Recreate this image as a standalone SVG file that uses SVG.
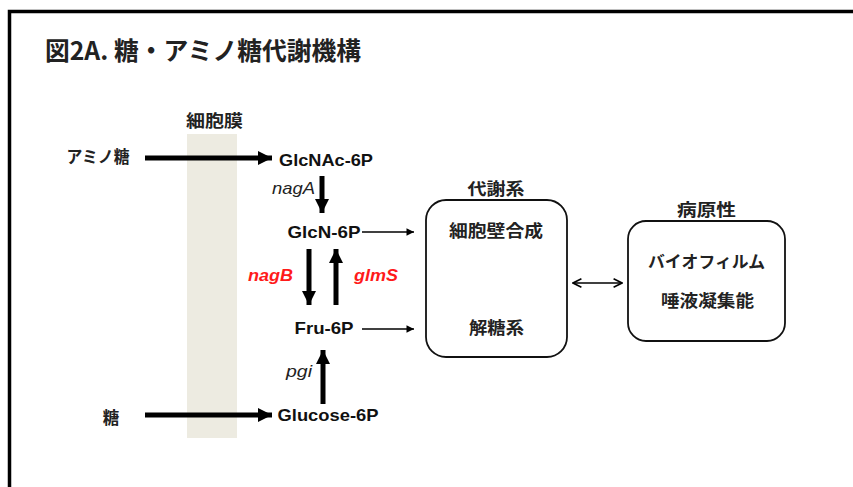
<svg xmlns="http://www.w3.org/2000/svg" width="853" height="487" viewBox="0 0 853 487">
<defs>
<style>
.t{font-family:"Liberation Sans","Noto Sans CJK JP",sans-serif;font-weight:bold;fill:#111;font-size:17px;}
.j{font-family:"Noto Sans CJK JP","Liberation Sans",sans-serif;font-weight:bold;fill:#222;font-size:16.5px;}
.it{font-family:"Liberation Sans",sans-serif;font-style:italic;fill:#222;font-size:17px;}
.red{fill:#ff1a1a;font-weight:bold;}
.thick{stroke:#000;stroke-width:5;fill:none;}
.thin{stroke:#000;stroke-width:1.5;fill:none;}
.box{fill:#fff;stroke:#111;stroke-width:1.8;}
</style>
<marker id="hb" viewBox="0 0 10 10" refX="10" refY="5" markerWidth="2.8" markerHeight="2.8" orient="auto" markerUnits="strokeWidth"><path d="M0,0 L10,5 L0,10 z" fill="#000"/></marker>
<marker id="hs" viewBox="0 0 10 10" refX="10" refY="5" markerWidth="6" markerHeight="5" orient="auto" markerUnits="strokeWidth"><path d="M0,0 L10,5 L0,10 z" fill="#000"/></marker>
<marker id="ho" viewBox="0 0 10 10" refX="9" refY="5" markerWidth="7" markerHeight="7" orient="auto-start-reverse" markerUnits="strokeWidth"><path d="M1,1 L9,5 L1,9" fill="none" stroke="#000" stroke-width="1.5"/></marker>
</defs>
<rect x="0" y="0" width="853" height="487" fill="#fff"/>
<path d="M9.5,490 L9.5,11.5 L860,11.5" fill="none" stroke="#000" stroke-width="3.5"/>
<text class="j" x="45" y="60" style="font-size:25px" textLength="316" lengthAdjust="spacingAndGlyphs">図2A. 糖・アミノ糖代謝機構</text>
<g id="membrane">
<rect x="187" y="134" width="50" height="304" fill="#edebe1"/>
<text class="j" x="214.5" y="127" text-anchor="middle" textLength="57" lengthAdjust="spacingAndGlyphs">細胞膜</text>
</g>
<g id="aminosugar"><text class="j" x="98" y="163" text-anchor="middle" textLength="63" lengthAdjust="spacingAndGlyphs">アミノ糖</text></g>
<g id="sugar"><text class="j" x="111" y="424" text-anchor="middle">糖</text></g>
<g id="glcnac6p"><text class="t" x="326" y="166" text-anchor="middle" textLength="94" lengthAdjust="spacingAndGlyphs">GlcNAc-6P</text></g>
<g id="glcn6p"><text class="t" x="324" y="238" text-anchor="middle" textLength="73" lengthAdjust="spacingAndGlyphs">GlcN-6P</text></g>
<g id="fru6p"><text class="t" x="324" y="334" text-anchor="middle" textLength="59" lengthAdjust="spacingAndGlyphs">Fru-6P</text></g>
<g id="glucose6p"><text class="t" x="328" y="421" text-anchor="middle" textLength="101" lengthAdjust="spacingAndGlyphs">Glucose-6P</text></g>
<g id="metabolism">
<text class="j" x="496" y="194.5" text-anchor="middle" textLength="57" lengthAdjust="spacingAndGlyphs">代謝系</text>
<rect class="box" x="426" y="200" width="141" height="157" rx="20"/>
<text class="j" x="496" y="237" text-anchor="middle" textLength="94" lengthAdjust="spacingAndGlyphs">細胞壁合成</text>
<text class="j" x="496.5" y="334" text-anchor="middle" textLength="55" lengthAdjust="spacingAndGlyphs">解糖系</text>
</g>
<g id="pathogenicity">
<text class="j" x="706.5" y="215.5" text-anchor="middle" textLength="59" lengthAdjust="spacingAndGlyphs">病原性</text>
<rect class="box" x="628" y="221" width="157" height="120" rx="18"/>
<text class="j" x="706.5" y="268" text-anchor="middle" textLength="117" lengthAdjust="spacingAndGlyphs">バイオフィルム</text>
<text class="j" x="707.5" y="307" text-anchor="middle" textLength="93" lengthAdjust="spacingAndGlyphs">唾液凝集能</text>
</g>
<g id="labels">
<text class="it" x="272" y="194" textLength="43" lengthAdjust="spacingAndGlyphs">nagA</text>
<text class="it red" x="248" y="281" textLength="45" lengthAdjust="spacingAndGlyphs">nagB</text>
<text class="it red" x="354" y="281" textLength="44" lengthAdjust="spacingAndGlyphs">glmS</text>
<text class="it" x="286" y="377" textLength="26" lengthAdjust="spacingAndGlyphs">pgi</text>
</g>
<g id="connectors">
<line class="thick" x1="145" y1="158" x2="272" y2="158" marker-end="url(#hb)"/>
<line class="thick" x1="145" y1="415" x2="272" y2="415" marker-end="url(#hb)"/>
<line class="thick" x1="322" y1="176" x2="322" y2="213" marker-end="url(#hb)"/>
<line class="thick" x1="309" y1="249" x2="309" y2="305" marker-end="url(#hb)"/>
<line class="thick" x1="336" y1="305" x2="336" y2="249" marker-end="url(#hb)"/>
<line class="thick" x1="323" y1="404" x2="323" y2="350" marker-end="url(#hb)"/>
<line class="thin" x1="362" y1="232" x2="414" y2="232" marker-end="url(#hs)"/>
<line class="thin" x1="362" y1="329" x2="414" y2="329" marker-end="url(#hs)"/>
<line class="thin" x1="573" y1="283" x2="622" y2="283" marker-start="url(#ho)" marker-end="url(#ho)"/>
</g>
</svg>
